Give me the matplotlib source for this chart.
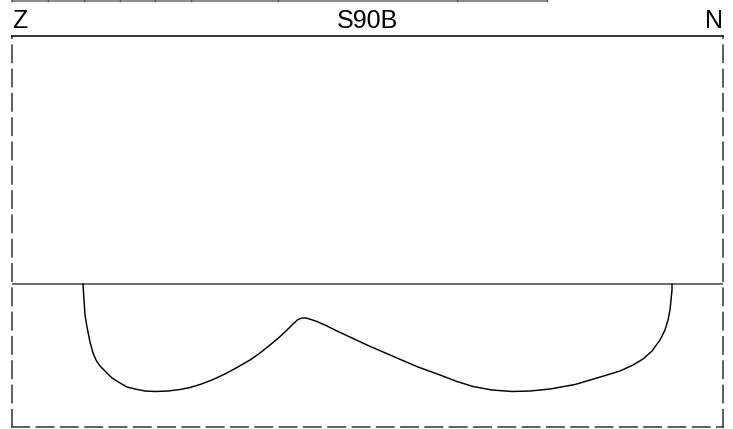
import matplotlib.pyplot as plt
from matplotlib.lines import Line2D

plt.rcParams['font.family'] = ['Liberation Sans', 'DejaVu Sans']
plt.rcParams['lines.scale_dashes'] = False

# profile section S90B, distance (m) and depth below ground (m)
title = 'S90B'
left_label = 'Z'
right_label = 'N'
dist = [7.1, 7.2, 7.3, 7.5, 7.8, 8.1, 8.4, 8.8, 9.5, 10.0, 10.8, 11.5, 12.3, 13.3,
        14.3, 15.6, 16.8, 17.8, 18.8, 20.0, 21.3, 22.5, 23.8, 24.8, 25.8, 26.7,
        27.5, 28.1, 28.6, 29.0, 29.4, 29.9, 30.5, 31.5, 32.5, 34.0, 35.5, 37.0,
        38.5, 40.6, 42.8, 44.5, 46.1, 48.0, 50.0, 51.8, 53.8, 56.3, 58.5, 60.8,
        62.1, 63.1, 64.0, 64.8, 65.3, 65.6, 65.8, 65.9, 66.0, 66.0]
depth = [0, -1.6, -3.1, -4.3, -5.8, -6.9, -7.6, -8.2, -8.9, -9.4, -9.9, -10.3,
         -10.5, -10.7, -10.75, -10.7, -10.55, -10.35, -10.05, -9.6, -9.0, -8.35,
         -7.6, -6.9, -6.1, -5.35, -4.6, -4.0, -3.55, -3.4, -3.4, -3.55, -3.75,
         -4.2, -4.7, -5.4, -6.1, -6.75, -7.4, -8.3, -9.1, -9.75, -10.25, -10.6,
         -10.75, -10.7, -10.5, -10.05, -9.4, -8.7, -8.1, -7.5, -6.7, -5.6, -4.6,
         -3.6, -2.6, -1.6, -0.6, 0]
x_range = (0, 71.1)
y_range = (-14.3, 24.8)

# little scale strip along the top edge (pixels)
scale_start, scale_end = 12, 547
scale_ticks = [12, 48, 84, 120, 155, 191, 278, 457, 547]

W, H = 733, 429
fig = plt.figure(figsize=(W / 100, H / 100), dpi=100)
ax = fig.add_axes([12 / W, 2 / H, 711 / W, 391 / H])
ax.set_xlim(*x_range)
ax.set_ylim(*y_range)
ax.set_xticks([])
ax.set_yticks([])

for side in ['left', 'right', 'bottom']:
    ax.spines[side].set_linestyle((0, (12.5, 5)))
    ax.spines[side].set_color('#333333')
    ax.spines[side].set_linewidth(1.1)
ax.spines['top'].set_color('#222222')
ax.spines['top'].set_linewidth(1.3)

ax.axhline(0, color='#444444', lw=1.1)
ax.plot(dist, depth, color='black', lw=1.05, solid_joinstyle='round')

for txt, xf, ha in [(left_label, 0.0, 'left'), (title, 0.5, 'center'), (right_label, 1.0, 'right')]:
    ax.annotate(txt, xy=(xf, 1.0), xycoords='axes fraction', xytext=(0, 5.8),
                textcoords='offset points', ha=ha, va='baseline', fontsize=18)

# top strip
tr = fig.transFigure
fig.lines.append(Line2D([scale_start / W, scale_end / W], [(H - 1) / H, (H - 1) / H],
                        transform=tr, color='#777777', lw=1.2))
for t in scale_ticks:
    fig.lines.append(Line2D([t / W, t / W], [(H - 1) / H, 1.0], transform=tr,
                            color='#555555', lw=1.0))

fig.savefig('out.png', dpi=100)
